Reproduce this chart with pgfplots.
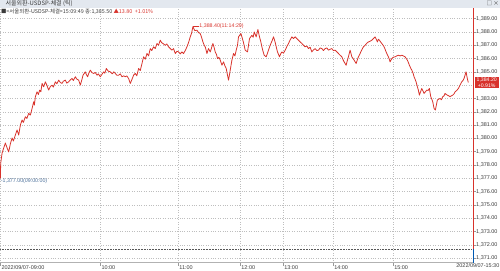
\documentclass[border=0pt]{standalone}
\usepackage{pgfplots}
\pgfplotsset{compat=1.18}
\usepackage{fontspec}
\setmainfont{Liberation Sans}
\newfontfamily\kr{Noto Sans CJK KR}
\definecolor{lred}{HTML}{D8322B}
\definecolor{lblue}{HTML}{4A6F9A}
\definecolor{gridc}{HTML}{BEBEBE}
\definecolor{txt}{HTML}{3A3A3A}
\definecolor{barc}{HTML}{E3E8EF}
\begin{document}
\begin{tikzpicture}
\begin{axis}[
  scale only axis, width=473bp, height=255bp,
  xmin=0, xmax=473, ymin=1370.65, ymax=1389.8,
  axis x line*=bottom, axis y line*=right,
  x axis line style={draw=gray!60, line width=0.8pt, -},
  y axis line style={draw=lred, line width=0.8pt, -},
  xtick={0,100,178,240,283,333,393},
  xticklabels={2022/09/07-09:00,10:00,11:00,12:00,13:00,14:00,15:00},
  xticklabel style={anchor=north west, inner sep=0.5pt, xshift=0.5pt, yshift=1pt},
  xmajorgrids, ymajorgrids,
  grid style={gridc, dotted, line width=0.45pt},
  x tick style={draw=gray!80, line width=0.4pt},
  tick align=outside, major tick length=3bp,
  ytick={1371,1372,1373,1374,1375,1376,1377,1378,1379,1380,1381,1382,1383,1385,1386,1387,1388,1389},
  y tick style={draw=gray!80, line width=0.4pt},
  yticklabel style={inner sep=0.5pt, xshift=-0.5pt},
  extra y ticks={1384},
  extra y tick labels={},
  extra y tick style={grid=major, major tick length=0pt},
  /pgf/number format/.cd, fixed, fixed zerofill, precision=2, 1000 sep={,}, assume math mode=true,
  /pgfplots/.cd,
  tick label style={font=\fontsize{5.5}{6}\selectfont, text=txt},
  clip=false,
]
\addplot[txt!85, densely dotted, line width=0.55pt, forget plot] coordinates {(0,1371.7) (473,1371.7)};
\addplot[lred, line width=0.8pt, line join=round] coordinates {
(0,1377.0)(0.3,1378.13)(1.7,1378.90)(3,1379.2)(5,1379.65)(6.7,1379.28)(8.3,1378.98)(10,1379.6)(11.7,1380.03)(13,1379.8)(15,1380.25)(16.7,1380.63)(18.3,1380.25)(20,1381.0)(21.7,1381.38)(23,1381.2)(25,1381.63)(26.5,1381.5)(28.3,1381.88)(30,1381.75)(31.7,1382.25)(33.3,1382.75)(34,1382.5)(35,1383.13)(36.7,1383.5)(38,1383.3)(39.3,1383.63)(40.5,1383.5)(41.7,1384.13)(43.3,1383.88)(45,1384.25)(46.5,1384.0)(48.3,1383.63)(50,1383.9)(51.7,1384.0)(53,1383.85)(55,1384.25)(56.5,1384.1)(58.3,1384.38)(60,1384.2)(61.7,1384.13)(63,1384.3)(65,1384.38)(66.5,1384.15)(68.3,1384.25)(70,1384.4)(71.7,1384.5)(73,1384.35)(75,1384.63)(76.5,1384.45)(78.3,1384.38)(80,1384.0)(81.5,1384.4)(82.7,1384.75)(85,1385.0)(86,1384.8)(87.3,1384.63)(88.5,1384.9)(90,1385.13)(91.5,1384.95)(93.3,1384.88)(95,1384.95)(96.7,1384.75)(98,1384.85)(100,1384.63)(101.5,1384.8)(103.3,1385.0)(104.5,1384.9)(106,1385.25)(108,1385.05)(110,1385.0)(112,1384.85)(113.5,1385.0)(115,1384.88)(116.5,1384.75)(118.3,1384.75)(120,1384.85)(121.7,1384.63)(123.5,1384.7)(125,1384.63)(126.5,1384.7)(128.3,1384.5)(130,1384.13)(131.5,1384.4)(133.3,1384.75)(135,1384.88)(136.5,1384.7)(138.3,1385.25)(140,1385.1)(141.7,1385.63)(143.3,1386.13)(145,1385.95)(146.7,1386.38)(148.3,1386.2)(150,1386.75)(151.5,1386.6)(153.3,1386.88)(155,1386.75)(156.7,1387.13)(158.3,1387.0)(160,1387.38)(161.3,1387.2)(162.7,1387.13)(165,1387.0)(166.5,1387.1)(168.3,1386.88)(170,1386.75)(171.7,1386.63)(173.3,1386.75)(175,1386.38)(176.7,1386.55)(178.3,1386.5)(180,1386.35)(181.7,1386.5)(183.3,1386.38)(185,1386.6)(186.7,1386.88)(188.3,1387.2)(190,1387.63)(191.3,1387.9)(192.7,1388.4)(194.5,1388.1)(196.7,1388.13)(198.3,1387.95)(200,1387.88)(201.3,1387.6)(202.7,1387.25)(204,1387.0)(205,1386.88)(206.7,1386.38)(208.3,1386.75)(210,1386.5)(211.3,1386.8)(212.7,1387.13)(214,1386.8)(215,1386.5)(216.3,1386.3)(217.3,1386.0)(218.7,1386.1)(220,1385.88)(221.7,1385.5)(223.3,1385.75)(224.7,1385.45)(226,1385.25)(227.3,1384.75)(228.3,1384.38)(229.3,1384.8)(230,1385.13)(231.7,1385.88)(233.3,1386.38)(234.7,1386.2)(236,1386.63)(237.3,1387.0)(238.3,1387.63)(240.7,1387.88)(241.7,1387.63)(243.3,1387.2)(245,1386.63)(247.3,1386.5)(248.3,1387.0)(249.3,1387.5)(251.7,1387.75)(253,1387.6)(254,1388.0)(256,1387.63)(257.7,1388.18)(259.3,1387.63)(260.5,1387.3)(261.7,1386.88)(263,1386.5)(264,1386.25)(266,1386.13)(267.3,1386.4)(268.3,1386.63)(269.5,1386.9)(270.7,1387.13)(272,1387.35)(273.3,1387.63)(274.3,1387.4)(275.3,1387.13)(276.3,1386.8)(277.3,1386.5)(279.3,1386.13)(280.5,1386.35)(281.7,1386.5)(283.3,1386.4)(285,1386.63)(286.7,1386.9)(288.3,1387.13)(290,1387.4)(291.7,1387.63)(293.3,1387.5)(295,1387.63)(296.7,1387.5)(298.3,1387.38)(300,1387.25)(301.7,1387.13)(303.3,1387.0)(305,1386.88)(306.7,1386.95)(308.3,1386.75)(310,1386.85)(311.7,1386.5)(313.3,1386.65)(315,1386.75)(316.7,1386.6)(318.3,1386.63)(320,1386.8)(321.7,1386.75)(323.3,1386.6)(325,1386.75)(326.7,1386.8)(328.3,1386.63)(330,1386.7)(331.7,1386.75)(333.3,1386.6)(335,1386.63)(336.7,1386.5)(338.3,1386.38)(340,1386.25)(341.7,1386.13)(343,1385.9)(344,1385.75)(346,1385.5)(347,1385.8)(348.3,1386.13)(350,1386.63)(351.7,1386.13)(353,1386.0)(354,1385.88)(356,1385.63)(357.2,1385.9)(358.3,1386.13)(359.5,1386.3)(360.7,1386.5)(362,1386.7)(363.3,1386.88)(365,1387.0)(366.7,1387.15)(368.3,1387.25)(370,1387.3)(371.7,1387.38)(373.3,1387.5)(375,1387.63)(376.2,1387.45)(377.3,1387.25)(378.3,1387.45)(379.3,1387.38)(380.5,1387.25)(381.7,1387.13)(383,1387.0)(384,1386.88)(385,1386.7)(386,1386.5)(387.2,1386.3)(388.3,1386.13)(389.2,1385.95)(390,1385.75)(391.7,1386.0)(393.3,1386.1)(395,1386.13)(396.7,1386.2)(398.3,1386.25)(400,1386.2)(401.7,1386.25)(403.3,1386.2)(405,1386.13)(406.2,1386.0)(407.3,1385.88)(408.3,1385.7)(409.3,1385.5)(410.5,1385.3)(411.7,1385.13)(413,1384.9)(414,1384.63)(415,1384.45)(416,1384.25)(417.3,1383.88)(418.3,1383.63)(419.3,1383.25)(420.5,1383.5)(421.7,1383.75)(423,1383.55)(424,1383.38)(425.3,1383.5)(426.7,1383.63)(428,1383.6)(429.3,1383.75)(430.7,1383.13)(431.7,1382.95)(432.7,1382.75)(434,1382.25)(435.3,1382.13)(436.3,1382.5)(437.3,1382.88)(438.7,1382.95)(440,1383.0)(441.3,1382.9)(442.7,1383.13)(444,1383.2)(445,1383.38)(446.2,1383.3)(447.3,1383.25)(448.7,1383.2)(450,1383.13)(451.3,1383.2)(452.7,1383.25)(454,1383.35)(455,1383.5)(456.7,1383.6)(458.3,1383.75)(460,1384.0)(461.7,1384.25)(463,1384.35)(464,1384.5)(465,1384.75)(466,1385.0)(467.3,1384.5)(468.3,1384.2)
};
% annotations
\draw[lred, line width=0.4pt] (axis cs:192.7,1388.4) -- ([xshift=6bp]axis cs:192.7,1388.4) node[anchor=west, inner sep=0.3pt, text=lred, font=\fontsize{5.3}{6}\selectfont] {1,388.40(11:14:29)};
\node[anchor=west, inner sep=0.3pt, text=lblue, font=\fontsize{5.3}{6}\selectfont] at (axis cs:0,1376.75) {-1,377.00(09:00:00)};
\node[anchor=west, fill=lred, text=white, inner sep=0.6pt, align=center, font=\fontsize{5.2}{5.6}\selectfont, minimum width=24bp] at ([xshift=1.5bp]axis cs:473,1384.2) {1,384.20\\+0.91\%};
\draw[blue!50!cyan!70!black, line width=0.9pt] (axis cs:473.6,1371.7) -- (axis cs:473.6,1370.65);
\end{axis}
% header
\fill[barc] (0bp,255bp) rectangle (500bp,263bp);
\node[anchor=west, inner sep=0pt, text=txt, font=\kr\fontsize{6}{6.5}\selectfont] at (5bp,259.2bp) {서울외환-USDSP-체결 (틱)};
\node[anchor=east, inner sep=0pt, text=txt, font=\kr\fontsize{5.5}{6}\selectfont] at (499bp,259.2bp) {□ ×};
\node[anchor=west, inner sep=0pt, text=txt, font=\kr\fontsize{5.4}{6}\selectfont] at (0.5bp,251.3bp) {■<서울외환-USDSP-체결>15:09:49 종:1,385.50 \textcolor{lred}{▲13.80 \ +1.01\%}};
\node[anchor=north east, inner sep=0.5pt, text=txt, font=\fontsize{5.5}{6}\selectfont] at (500bp,-0.5bp) {2022/09/07-15:30};
\useasboundingbox (0bp,-7bp) rectangle (500bp,263bp);
\end{tikzpicture}
\end{document}
